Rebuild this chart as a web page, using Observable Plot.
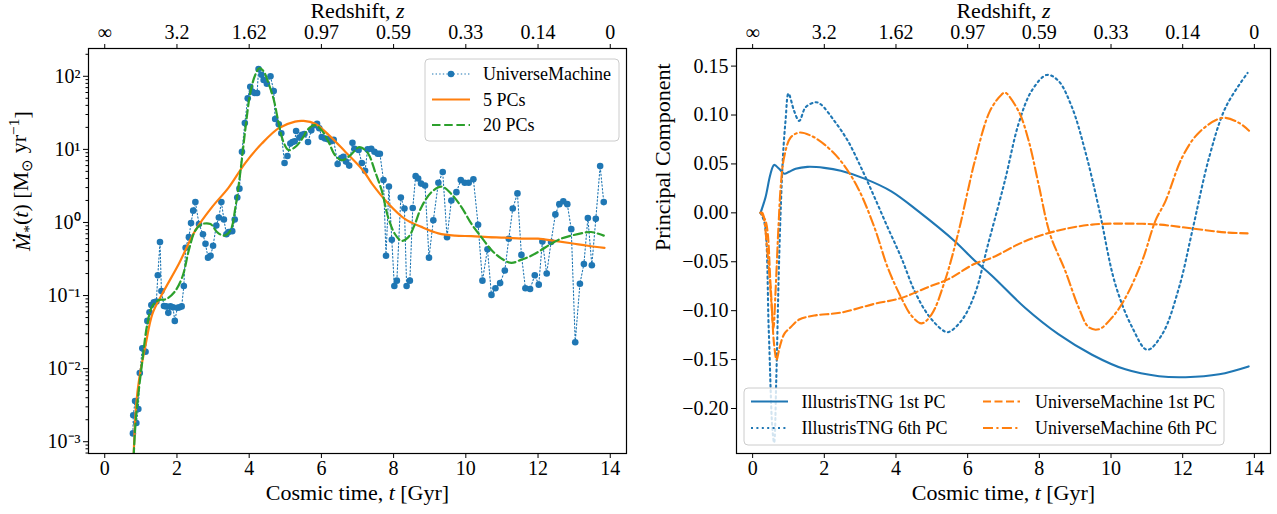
<!DOCTYPE html>
<html>
<head>
<meta charset="utf-8">
<script src="https://cdn.jsdelivr.net/npm/d3@7"></script>
<script src="https://cdn.jsdelivr.net/npm/@observablehq/plot@0.6"></script>
<style>
  html, body { margin: 0; padding: 0; background: white; }
  #wrap { display: flex; width: 1277px; height: 514px; }
  svg { overflow: visible; }
</style>
</head>
<body>
<div id="wrap"></div>
<script>
// ---------------- DATA ----------------
// Left panel: UniverseMachine star formation history (Gyr, Msun/yr)
const umT = [0.78,0.79,0.84,0.875,0.93,0.97,1.04,1.13,1.18,1.24,1.29,1.36,1.43,1.47,1.53,1.57,1.64,1.70,1.76,1.82,1.89,1.94,2.01,2.07,2.13,2.19,2.24,2.33,2.39,2.45,2.51,2.61,2.72,2.79,2.86,2.93,3.00,3.09,3.16,3.23,3.30,3.37,3.43,3.53,3.60,3.67,3.73,3.80,3.88,3.96,4.03,4.08,4.15,4.22,4.26,4.34,4.40,4.49,4.59,4.68,4.72,4.82,4.89,4.98,5.06,5.14,5.20,5.26,5.30,5.39,5.46,5.53,5.63,5.72,5.81,5.88,5.94,6.01,6.10,6.18,6.27,6.34,6.45,6.55,6.61,6.68,6.77,6.86,6.92,7.03,7.12,7.21,7.28,7.38,7.47,7.56,7.62,7.72,7.79,7.87,7.95,8.02,8.09,8.20,8.30,8.36,8.45,8.53,8.61,8.68,8.76,8.87,8.98,9.10,9.24,9.36,9.48,9.60,9.74,9.86,9.97,10.08,10.21,10.34,10.46,10.60,10.71,10.82,10.95,11.08,11.19,11.30,11.43,11.54,11.65,11.78,11.91,12.02,12.12,12.24,12.36,12.48,12.59,12.70,12.81,12.92,13.03,13.16,13.27,13.38,13.49,13.60,13.72,13.82];
const umSFR = [0.0013,0.0023,0.0036,0.0018,0.0028,0.0087,0.019,0.017,0.045,0.059,0.074,0.081,0.083,0.19,0.54,0.115,0.072,0.071,0.058,0.071,0.069,0.045,0.068,0.069,0.071,0.135,0.45,0.63,0.98,1.45,1.9,0.95,0.69,0.51,0.33,0.35,0.48,0.91,1.17,1.9,1.10,0.69,0.74,0.76,1.10,2.2,2.9,9.3,23,50,72,62,59,59,126,105,89,79,100,63,26,22,16.6,6.5,8.1,12.0,12.6,12.9,17.8,14.5,15.8,16.2,12.6,18.2,21.4,22.4,19.5,14.8,14.1,13.8,12.9,13.5,6.3,7.6,7.9,6.8,6.0,12.3,10.2,9.8,6.5,5.1,10.0,10.2,9.3,8.7,8.7,3.8,0.35,3.1,0.58,0.135,0.16,2.2,1.55,0.135,0.16,1.58,4.3,4.0,3.4,3.2,0.33,1.07,3.5,4.9,0.63,2.0,2.6,3.8,3.5,3.5,3.9,0.93,0.16,0.43,0.102,0.126,0.148,0.22,0.60,1.55,2.5,0.36,0.126,0.123,0.19,0.141,0.55,0.20,0.54,1.29,1.78,1.95,1.78,0.81,0.023,0.145,0.27,1.15,0.26,1.12,5.9,1.9];

const pc5T = [0.80,0.87,0.96,1.13,1.32,1.59,2.05,2.51,2.97,3.43,3.89,4.35,4.82,5.27,5.51,5.83,6.20,6.66,7.16,7.40,7.85,8.31,8.77,9.24,9.70,10.16,10.62,11.08,11.54,12.00,12.46,12.92,13.38,13.84];
const pc5SFR = [0.00063,0.0032,0.0076,0.021,0.056,0.105,0.27,0.78,1.62,3.0,6.5,12.0,19.5,24,24.5,22.4,15.8,9.3,5.1,3.4,1.82,1.12,0.87,0.71,0.66,0.65,0.63,0.62,0.60,0.60,0.56,0.52,0.48,0.45];

const pc20T = [0.80,0.87,1.04,1.18,1.32,1.50,1.69,1.92,2.15,2.33,2.51,2.70,2.93,3.11,3.30,3.48,3.62,3.76,3.89,4.03,4.17,4.28,4.40,4.54,4.68,4.82,4.95,5.09,5.27,5.46,5.64,5.83,6.01,6.20,6.38,6.57,6.80,7.03,7.12,7.30,7.49,7.67,7.85,8.04,8.22,8.41,8.59,8.77,9.05,9.33,9.60,9.88,10.16,10.43,10.71,10.99,11.26,11.54,11.81,12.09,12.36,12.64,12.92,13.19,13.47,13.82];
const pc20SFR = [0.00063,0.0023,0.0126,0.041,0.072,0.087,0.089,0.11,0.18,0.42,0.78,0.95,0.95,0.74,0.66,0.78,1.62,5.1,18.2,59,105,129,117,79,48,22.4,12.6,9.8,10.7,13.8,19.1,21.4,18.2,12.6,8.3,7.1,8.3,10.7,10.5,8.7,4.9,2.75,1.17,0.69,0.56,0.63,0.95,1.62,2.6,3.1,2.45,1.62,0.95,0.63,0.42,0.32,0.28,0.31,0.35,0.42,0.51,0.60,0.66,0.71,0.74,0.66];

// Right panel: principal components
const tng1T = [0.22,0.36,0.50,0.60,0.74,0.88,1.02,1.20,1.53,2.00,2.46,3.12,3.87,4.61,5.64,6.20,6.67,7.60,8.53,9.47,10.40,11.34,12.08,13.02,13.84];
const tng1 = [0,0.016,0.040,0.049,0.045,0.040,0.042,0.045,0.047,0.046,0.043,0.035,0.022,0.002,-0.029,-0.049,-0.064,-0.097,-0.124,-0.145,-0.160,-0.167,-0.168,-0.165,-0.157];

const tng6T = [0.22,0.33,0.45,0.55,0.60,0.66,0.73,0.79,0.85,0.92,1.00,1.16,1.30,1.48,1.76,1.90,2.28,2.65,3.03,3.40,3.77,4.15,4.52,4.89,5.27,5.45,5.83,6.20,6.57,7.04,7.42,7.79,8.21,8.53,8.91,9.28,9.66,10.12,10.59,11.01,11.43,11.90,12.27,12.74,13.20,13.81];
const tng6 = [0,-0.01,-0.12,-0.22,-0.235,-0.17,-0.06,0.01,0.06,0.095,0.122,0.104,0.094,0.108,0.113,0.111,0.094,0.074,0.046,0.016,-0.015,-0.046,-0.080,-0.104,-0.119,-0.122,-0.110,-0.083,-0.032,0.033,0.091,0.125,0.141,0.135,0.108,0.063,0.005,-0.073,-0.117,-0.140,-0.124,-0.076,-0.018,0.057,0.108,0.143];

const um1T = [0.22,0.36,0.50,0.60,0.67,0.75,0.88,1.06,1.30,1.72,2.46,3.40,4.15,4.89,5.45,6.20,6.67,7.60,8.53,9.47,10.40,11.34,12.27,13.20,13.81];
const um1 = [0,-0.008,-0.073,-0.135,-0.150,-0.138,-0.124,-0.117,-0.109,-0.105,-0.102,-0.093,-0.087,-0.076,-0.068,-0.052,-0.046,-0.029,-0.018,-0.012,-0.011,-0.012,-0.016,-0.020,-0.021];

const um6T = [0.22,0.27,0.41,0.53,0.58,0.64,0.72,0.79,0.88,1.06,1.30,1.62,2.00,2.46,2.93,3.40,3.77,4.15,4.43,4.71,4.99,5.36,5.74,6.02,6.20,6.62,6.95,7.04,7.42,7.70,7.98,8.30,8.72,9.10,9.38,9.66,10.03,10.40,10.87,11.24,11.52,11.99,12.45,13.10,13.57,13.85];
const um6 = [0,0,-0.039,-0.095,-0.118,-0.08,-0.015,0.03,0.057,0.077,0.082,0.079,0.070,0.053,0.026,-0.015,-0.056,-0.087,-0.105,-0.113,-0.104,-0.070,-0.020,0.025,0.053,0.104,0.121,0.123,0.104,0.074,0.029,-0.022,-0.059,-0.097,-0.117,-0.119,-0.107,-0.087,-0.049,-0.008,0.012,0.057,0.082,0.097,0.092,0.084];

// Axes / ticks
const timeTicks = [0,2,4,6,8,10,12,14];
const redshiftLabels = ["∞","3.2","1.62","0.97","0.59","0.33","0.14","0"];
const logTicks = [1e-3,1e-2,1e-1,1,10,100];
const logTickLabels = ["10⁻³","10⁻²","10⁻¹","10⁰","10¹","10²"];
const pcTicks = [0.15,0.10,0.05,0.00,-0.05,-0.10,-0.15,-0.20];

// ---------------- STYLE ----------------
const BLUE = "#1f77b4", ORANGE = "#ff7f0e", GREEN = "#2ca02c";
const FONT = "'Liberation Serif', 'Times New Roman', serif";
const minorLog = [];
for (let e = -4; e <= 2; e++) for (let m = 2; m <= 9; m++) {
  const v = m * Math.pow(10, e);
  if (v > 6.9e-4 && v < 240) minorLog.push(v);
}
const zMap = new Map(timeTicks.map((t, i) => [t, redshiftLabels[i]]));
const logMap = new Map(logTicks.map((t, i) => [t, logTickLabels[i]]));

function commonAxes() {
  return [
    Plot.axisX({anchor: "bottom", ticks: timeTicks, tickSize: 5, tickPadding: 2, label: null, fontSize: 20}),
    Plot.axisX({anchor: "top", ticks: timeTicks, tickFormat: d => zMap.get(d), tickSize: 5, tickPadding: 5, label: null, fontSize: 20}),
    Plot.text(["Cosmic time, t [Gyr]"], {text: d => d, frameAnchor: "bottom", lineAnchor: "middle", dy: 39, fontSize: 22}),
    Plot.text(["Redshift, z"], {text: d => d, frameAnchor: "top", lineAnchor: "middle", dy: -37.5, fontSize: 22}),
    Plot.frame({stroke: "black", strokeWidth: 1.2})
  ];
}

// ---------------- LEFT PANEL ----------------
const left = Plot.plot({
  width: 640, height: 514,
  marginLeft: 88, marginRight: 14, marginTop: 48, marginBottom: 61,
  style: {fontFamily: FONT, fontSize: "20px", background: "white", color: "black", overflow: "visible"},
  x: {domain: [-0.45, 14.45]},
  y: {type: "log", domain: [6.9e-4, 240]},
  marks: [
    Plot.line(umT, {x: umT, y: umSFR, stroke: BLUE, strokeWidth: 1.1, strokeDasharray: "1.4,2.2", clip: true}),
    Plot.dot(umT, {x: umT, y: umSFR, r: 3.3, fill: BLUE, stroke: "none", clip: true}),
    Plot.line(pc5T, {x: pc5T, y: pc5SFR, stroke: ORANGE, strokeWidth: 2.2, curve: "catmull-rom", clip: true}),
    Plot.line(pc20T, {x: pc20T, y: pc20SFR, stroke: GREEN, strokeWidth: 2.2, strokeDasharray: "8.5,3.7", curve: "catmull-rom", clip: true}),
    Plot.axisY({ticks: logTicks, tickFormat: d => logMap.get(d), tickSize: 5, tickPadding: 3, label: null, fontSize: 20}),
    Plot.axisY({ticks: minorLog, tickFormat: () => "", tickSize: 2.5, label: null}),
    Plot.text(["Ṁ*(t) [M⊙ yr−1]"], {text: d => d, frameAnchor: "left", dx: -66, rotate: -90, fontSize: 22}),
    ...commonAxes()
  ]
});

// ---------------- RIGHT PANEL ----------------
const right = Plot.plot({
  width: 637, height: 514,
  marginLeft: 96, marginRight: 7, marginTop: 48, marginBottom: 61,
  style: {fontFamily: FONT, fontSize: "20px", background: "white", color: "black", overflow: "visible"},
  x: {domain: [-0.45, 14.45]},
  y: {domain: [-0.246, 0.168]},
  marks: [
    Plot.line(tng1T, {x: tng1T, y: tng1, stroke: BLUE, strokeWidth: 2.1, curve: "catmull-rom", clip: true}),
    Plot.line(tng6T, {x: tng6T, y: tng6, stroke: BLUE, strokeWidth: 2.1, strokeDasharray: "2,3.4", curve: "catmull-rom", clip: true}),
    Plot.line(um1T, {x: um1T, y: um1, stroke: ORANGE, strokeWidth: 2.1, strokeDasharray: "8,3.5", curve: "catmull-rom", clip: true}),
    Plot.line(um6T, {x: um6T, y: um6, stroke: ORANGE, strokeWidth: 2.1, strokeDasharray: "10,3.4,2.1,3.4", curve: "catmull-rom", clip: true}),
    Plot.axisY({ticks: pcTicks, tickFormat: d3.format(".2f"), tickSize: 5, tickPadding: 3, label: null, fontSize: 20}),
    Plot.text(["Principal Component"], {text: d => d, frameAnchor: "left", dx: -74, rotate: -90, fontSize: 22}),
    ...commonAxes()
  ]
});

document.getElementById("wrap").append(left, right);

// ---------------- rich label text (italics, sub/superscripts) ----------------
function richLabel(svg, plain, parts) {
  d3.select(svg).selectAll("text").each(function() {
    if (this.textContent !== plain) return;
    const t = d3.select(this);
    t.text(null);
    let shift = 0;
    for (const p of parts) {
      const target = p.sub ? 0.3 : p.sup ? -0.45 : 0;
      const s = t.append("tspan").text(p.t);
      if (target !== shift) { s.attr("dy", (target - shift) + "em"); shift = target; }
      if (p.i) s.attr("font-style", "italic");
      if (p.sub || p.sup) s.attr("font-size", "0.7em");
    }
  });
}
for (const svg of [left, right]) {
  richLabel(svg, "Cosmic time, t [Gyr]", [{t: "Cosmic time, "}, {t: "t", i: true}, {t: " [Gyr]"}]);
  richLabel(svg, "Redshift, z", [{t: "Redshift, "}, {t: "z", i: true}]);
}
richLabel(left, "Ṁ*(t) [M⊙ yr−1]", [{t: "Ṁ", i: true}, {t: "*", sub: true}, {t: "("}, {t: "t", i: true}, {t: ") [M"}, {t: "⊙", sub: true}, {t: " yr"}, {t: "−1", sup: true}, {t: "]"}]);

// ---------------- legends ----------------
function legend(svg, box, items) {
  const g = d3.select(svg).append("g").attr("font-family", FONT).attr("font-size", 18).attr("text-anchor", "start");
  g.append("rect").attr("x", box.x).attr("y", box.y).attr("width", box.w).attr("height", box.h)
    .attr("rx", 4).attr("fill", "white").attr("fill-opacity", 0.8).attr("stroke", "#cccccc");
  for (const it of items) {
    g.append("line").attr("x1", it.x).attr("x2", it.x + it.len).attr("y1", it.y).attr("y2", it.y)
      .attr("stroke", it.color).attr("stroke-width", it.w).attr("stroke-dasharray", it.dash || null);
    if (it.marker) g.append("circle").attr("cx", it.x + it.len / 2).attr("cy", it.y).attr("r", 3.3).attr("fill", it.color);
    g.append("text").attr("x", it.tx).attr("y", it.y).attr("dy", "0.35em").attr("text-anchor", "start").attr("fill", "black").text(it.label);
  }
}
legend(left, {x: 425, y: 59, w: 194, h: 82}, [
  {x: 432, len: 38, y: 74, tx: 483, color: BLUE, w: 1.1, dash: "1.4,2.2", marker: true, label: "UniverseMachine"},
  {x: 432, len: 38, y: 99.5, tx: 483, color: ORANGE, w: 2.2, label: "5 PCs"},
  {x: 432, len: 38, y: 125, tx: 483, color: GREEN, w: 2.2, dash: "8.5,3.7", label: "20 PCs"}
]);
legend(right, {x: 104, y: 388, w: 480, h: 57}, [
  {x: 111, len: 37, y: 401.5, tx: 161.5, color: BLUE, w: 2.1, label: "IllustrisTNG 1st PC"},
  {x: 111, len: 37, y: 428, tx: 161.5, color: BLUE, w: 2.1, dash: "2,3.4", label: "IllustrisTNG 6th PC"},
  {x: 343, len: 37, y: 401.5, tx: 395, color: ORANGE, w: 2.1, dash: "8,3.5", label: "UniverseMachine 1st PC"},
  {x: 343, len: 37, y: 428, tx: 395, color: ORANGE, w: 2.1, dash: "10,3.4,2.1,3.4", label: "UniverseMachine 6th PC"}
]);
</script>
</body>
</html>
